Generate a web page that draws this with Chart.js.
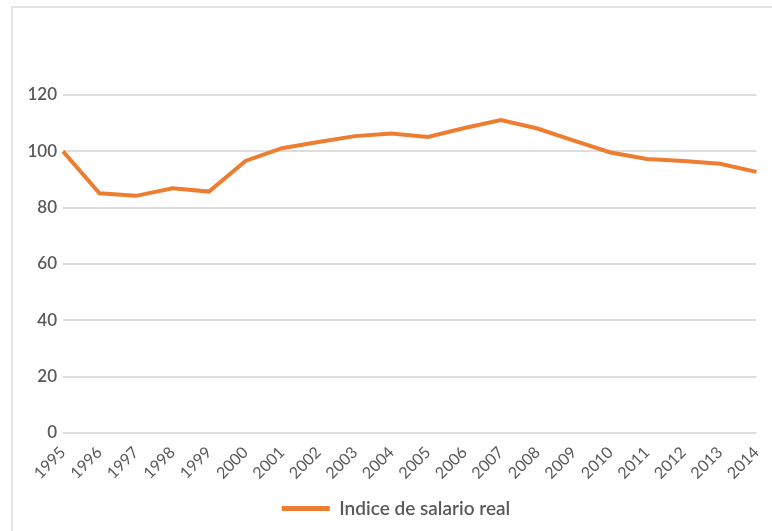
<!DOCTYPE html>
<html lang="es">
<head>
    <meta charset="UTF-8">
    <title>Indice de salario real</title>
    <script src="https://cdn.jsdelivr.net/npm/chart.js"></script>
    <style>
        body { margin: 0; background: #fff; }
        .frame {
            position: absolute; left: 11px; top: 6px;
            width: 820px; height: 600px;
            border: 2px solid #e3e3e3;
        }
        #salario { position: absolute; left: 0; top: 0; }
    </style>
</head>
<body>
    <div class="frame"></div>
    <canvas id="salario" width="772" height="531"></canvas>
    <script>
        // Datos
        const years = ['1995', '1996', '1997', '1998', '1999', '2000', '2001', '2002', '2003', '2004',
                       '2005', '2006', '2007', '2008', '2009', '2010', '2011', '2012', '2013', '2014'];
        const salarioReal = [100, 85.1, 84.2, 86.9, 85.7, 96.6, 101.1, 103.3, 105.4, 106.3,
                             105.1, 108.3, 111.1, 108.1, 103.8, 99.6, 97.3, 96.6, 95.6, 92.7];
        const yTicks = [0, 20, 40, 60, 80, 100, 120];

        const grey = '#595959';
        const orange = '#ED7D31';

        // legend sits a bit right of the canvas centre in the original
        const shiftLegend = {
            id: 'shiftLegend',
            afterLayout(chart) { chart.legend.left += 34; }
        };

        new Chart(document.getElementById('salario'), {
            type: 'line',
            data: {
                labels: years,
                datasets: [{
                    label: 'Indice de salario real',
                    data: salarioReal,
                    borderColor: orange,
                    backgroundColor: orange,
                    borderWidth: 4,
                    pointRadius: 0,
                    tension: 0
                }]
            },
            options: {
                responsive: false,
                animation: false,
                layout: { padding: { top: 95, right: 14, bottom: 3, left: 0 } },
                plugins: {
                    tooltip: { enabled: false },
                    legend: {
                        position: 'bottom',
                        labels: {
                            boxWidth: 48,
                            boxHeight: 5,
                            color: grey,
                            padding: 12,
                            font: { family: 'Lato', size: 19, weight: '600' },
                            generateLabels: chart =>
                                Chart.defaults.plugins.legend.labels.generateLabels(chart)
                                    .map(l => ({ ...l, lineWidth: 0 }))
                        }
                    }
                },
                scales: {
                    x: {
                        offset: false,
                        grid: { display: false },
                        border: { display: false },
                        afterFit: axis => { axis.height = 54; },
                        ticks: {
                            color: grey,
                            maxRotation: 45,
                            minRotation: 45,
                            autoSkip: false,
                            padding: 2,
                            font: { family: 'Lato', size: 16 }
                        }
                    },
                    y: {
                        min: 0,
                        max: 120,
                        afterBuildTicks: axis => { axis.ticks = yTicks.map(v => ({ value: v })); },
                        afterFit: axis => { axis.width = 63; },
                        grid: { color: '#dddddd', lineWidth: 2, drawTicks: false },
                        border: { display: false },
                        ticks: {
                            color: grey,
                            padding: 6,
                            font: { family: 'Lato', size: 17, weight: '600' }
                        }
                    }
                }
            },
            plugins: [shiftLegend]
        });
    </script>
</body>
</html>
